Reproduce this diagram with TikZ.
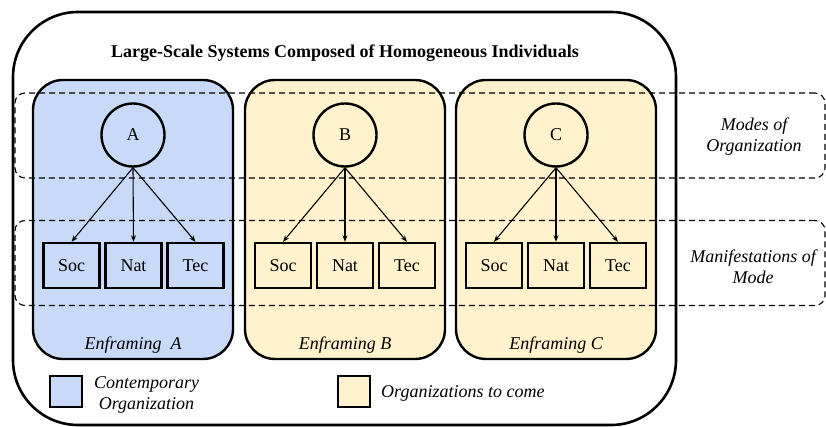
\documentclass[tikz,border=0pt]{standalone}
\usepackage{fontspec}
\setmainfont{Liberation Serif}
\newfontfamily\tnr{Liberation Serif}
\usetikzlibrary{arrows.meta}
\definecolor{panelblue}{HTML}{C9DAF8}
\definecolor{panelyellow}{HTML}{FFF2CC}
\tikzset{
  every node/.style={font=\tnr\fontsize{18}{21}\selectfont, inner sep=0pt},
  panelbox/.style={draw, line width=2.4pt, rounded corners=30pt, minimum width=200pt, minimum height=279pt},
  band/.style={draw, dashed, dash pattern=on 6pt off 4pt, line width=1.1pt, rounded corners=10pt, minimum width=810pt, minimum height=85pt},
  modecircle/.style={draw, circle, line width=2.4pt, minimum size=63pt},
  manibox/.style={draw, line width=2.4pt, minimum width=56pt, minimum height=45pt},
  conn/.style={line width=1.1pt, -{Stealth[length=6.5pt,width=5pt]}},
  legendbox/.style={draw, line width=1.1pt, minimum width=32pt, minimum height=31pt},
  lbl/.style={font=\tnr\fontsize{18}{21}\selectfont\itshape, align=center}
}
\begin{document}
\begin{tikzpicture}[x=1pt,y=-1pt]
\useasboundingbox (0,0) rectangle (826,427);
\node[draw, line width=2.6pt, rounded corners=65pt, minimum width=663pt, minimum height=413pt] (outer) at (344.5,218.5) {};
\node[font=\tnr\fontsize{18}{21}\selectfont\bfseries] (title) at (345,53) {Large-Scale Systems Composed of Homogeneous Individuals};
% panels
\node[panelbox, fill=panelblue] (pA) at (133,219.5) {};
\node[panelbox, fill=panelyellow] (pB) at (345,219.5) {};
\node[panelbox, fill=panelyellow] (pC) at (556,219.5) {};
% bands
\node[band] (band1) at (420,135.5) {};
\node[band] (band2) at (420,263) {};
% right labels
\node[lbl] (modes) at (754,137) {Modes of\\Organization};
\node[lbl] (mani) at (753,267) {Manifestations of\\Mode};
% circles
\node[modecircle] (cA) at (133,135) {A};
\node[modecircle] (cB) at (345,135) {B};
\node[modecircle] (cC) at (556,135) {C};
% boxes
\foreach \p/\cx in {A/133.5, B/345, C/556}{
  \node[manibox] (soc\p) at (\cx-62,265.5) {Soc};
  \node[manibox] (nat\p) at (\cx,265.5) {Nat};
  \node[manibox] (tec\p) at (\cx+62,265.5) {Tec};
  \draw[conn] (c\p.south) -- (soc\p.north);
  \draw[conn] (c\p.south) -- (nat\p.north);
  \draw[conn] (c\p.south) -- (tec\p.north);
}
% enframing labels
\node[lbl] (eA) at (133,345) {Enframing~ A};
\node[lbl] (eB) at (345,345) {Enframing B};
\node[lbl] (eC) at (556,345) {Enframing C};
% legend
\node[legendbox, fill=panelblue] (lgA) at (66,391.5) {};
\node[lbl] (lgAt) at (146.5,394.5) {Contemporary\\Organization};
\node[legendbox, fill=panelyellow] (lgB) at (354,391.5) {};
\node[lbl, anchor=west] (lgBt) at (381,393) {Organizations to come};
\end{tikzpicture}
\end{document}
